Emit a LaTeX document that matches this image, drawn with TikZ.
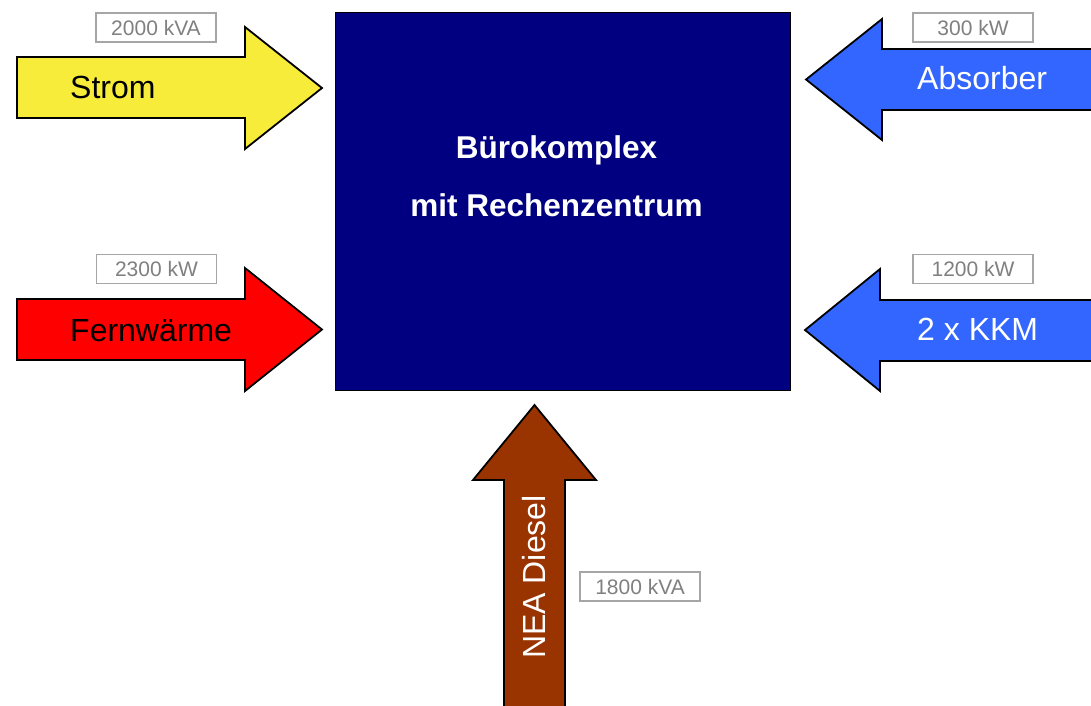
\documentclass[tikz,border=0pt]{standalone}
\usepackage{fontspec}
\setmainfont{Liberation Sans}
\usetikzlibrary{positioning}
\definecolor{stromyellow}{HTML}{F7EC3A}
\definecolor{fernred}{HTML}{FF0000}
\definecolor{kaelteblue}{HTML}{3366FF}
\definecolor{dieselbrown}{HTML}{993300}
\definecolor{buildingnavy}{HTML}{000080}
\tikzset{
    building/.style={
        rectangle,
        draw=black,
        line width=1pt,
        fill=buildingnavy,
        minimum width=455pt,
        minimum height=378pt
    },
    buildingtext/.style={
        text=white,
        font=\fontsize{31.5}{38}\selectfont\bfseries
    },
    flow/.style={
        draw=black,
        line width=1.8pt,
        line join=miter
    },
    flowtext/.style={
        inner sep=0pt,
        font=\fontsize{32}{38}\selectfont
    },
    valuebox/.style={
        rectangle,
        draw=gray!70,
        line width=1.8pt,
        fill=white,
        text=gray,
        minimum width=120pt,
        minimum height=29pt,
        inner sep=0pt,
        font=\fontsize{21}{25}\selectfont
    }
}
\begin{document}
\begin{tikzpicture}[x=1pt,y=-1pt]
    \useasboundingbox (0,0) rectangle (1091,705);

    % Building
    \node[building] (buero) at (562.5,201) {};
    \node[buildingtext, anchor=base] (buero1) at (556.5,158) {Bürokomplex};
    \node[buildingtext, anchor=base] (buero2) at (556.5,216) {mit Rechenzentrum};

    % Strom
    \draw[flow, fill=stromyellow] (17,57) -- (245,57) -- (245,27) -- (322,88) -- (245,149) -- (245,118) -- (17,118) -- cycle;
    \node[flowtext, anchor=west] (strom) at (70,87) {Strom};
    \node[valuebox] (stromval) at (156,27.5) {2000 kVA};

    % Fernwaerme
    \draw[flow, fill=fernred] (17,299) -- (245,299) -- (245,268) -- (322,329.5) -- (245,391) -- (245,360) -- (17,360) -- cycle;
    \node[flowtext, anchor=west] (fern) at (70,331) {Fernwärme};
    \node[valuebox] (fernval) at (156.5,269) {2300 kW};

    % Absorber
    \draw[flow, fill=kaelteblue] (1100,49) -- (882,49) -- (882,19) -- (806,79.5) -- (882,140) -- (882,110) -- (1100,110) -- cycle;
    \node[flowtext, anchor=west, text=white] (absorber) at (917,78.5) {Absorber};
    \node[valuebox] (absorberval) at (973,27.5) {300 kW};

    % KKM
    \draw[flow, fill=kaelteblue] (1100,300) -- (880,300) -- (880,269) -- (805,330) -- (880,391) -- (880,361) -- (1100,361) -- cycle;
    \node[flowtext, anchor=west, text=white] (kkm) at (917,329.5) {2 x KKM};
    \node[valuebox] (kkmval) at (973,269) {1200 kW};

    % NEA
    \draw[flow, fill=dieselbrown] (504,715) -- (504,480) -- (473,480) -- (534.5,405) -- (596,480) -- (565,480) -- (565,715) -- cycle;
    \node[flowtext, rotate=90, text=white] (nea) at (534.5,577) {NEA Diesel};
    \node[valuebox] (neaval) at (640,586.5) {1800 kVA};

\end{tikzpicture}
\end{document}
